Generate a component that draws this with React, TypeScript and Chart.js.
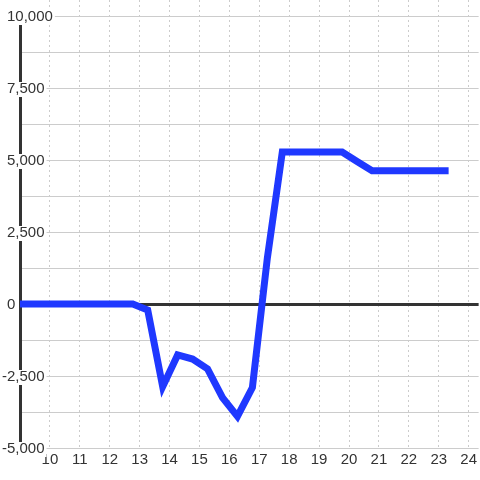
import { useEffect, useRef } from 'react';
import { Chart, registerables } from 'chart.js';

Chart.register(...registerables);

// Hour of day (x) and net value (y) for each sample
const hours = [
  8.77, 9.27, 9.77, 10.27, 10.77, 11.27, 11.77, 12.27, 12.77, 13.27,
  13.77, 14.27, 14.77, 15.27, 15.77, 16.27, 16.77, 17.27, 17.77, 18.27,
  18.77, 19.27, 19.77, 20.27, 20.77, 21.27, 21.77, 22.27, 22.77, 23.33,
];
const netValues = [
  0, 0, 0, 0, 0, 0, 0, 0, 0, -210,
  -2870, -1770, -1910, -2250, -3250, -3900, -2900, 1600, 5280, 5280,
  5280, 5280, 5280, 4950, 4630, 4630, 4630, 4630, 4630, 4630,
];

const xTickValues = [10, 11, 12, 13, 14, 15, 16, 17, 18, 19, 20, 21, 22, 23, 24];
const yGridValues = [-5000, -3750, -2500, -1250, 0, 1250, 2500, 3750, 5000, 6250, 7500, 8750, 10000];
const yLabelValues = [-5000, -2500, 0, 2500, 5000, 7500, 10000];

const FONT = '"Liberation Sans", Arial, sans-serif';
const TEXT_COLOR = '#333';
const GRID_COLOR = '#cccccc';
const LINE_COLOR = '#1f38ff';

const yLabelPlugin = {
  id: 'yLabelsOverlay',
  beforeDatasetsDraw(chart: any) {
    const { ctx, chartArea, scales } = chart;
    const ys = scales.y;
    const axisX = chartArea.left + 0.5;
    ctx.save();
    // vertical axis line spanning the labelled domain
    ctx.strokeStyle = TEXT_COLOR;
    ctx.lineWidth = 3;
    ctx.beginPath();
    ctx.moveTo(axisX, ys.getPixelForValue(yLabelValues[yLabelValues.length - 1]));
    ctx.lineTo(axisX, ys.getPixelForValue(yLabelValues[0]));
    ctx.stroke();

    ctx.font = `15px ${FONT}`;
    ctx.textBaseline = 'middle';
    ctx.textAlign = 'left';
    const minusW = ctx.measureText('-').width;
    const baseX = chartArea.left - 13;
    for (const v of yLabelValues) {
      const text = v.toLocaleString('en-US');
      const py = ys.getPixelForValue(v);
      const w = ctx.measureText(text).width;
      const px = v < 0 ? baseX - minusW : baseX;
      ctx.fillStyle = '#ffffff';
      ctx.fillRect(px - 1, py - 6, w + 3, 15);
      ctx.fillStyle = TEXT_COLOR;
      ctx.fillText(text, px, py + 1);
    }
    ctx.restore();
  },
};

export default function App() {
  const canvasRef = useRef<HTMLCanvasElement | null>(null);

  useEffect(() => {
    const canvas = canvasRef.current;
    if (!canvas) return;
    const chart = new Chart(canvas, {
      type: 'line',
      data: {
        datasets: [
          {
            data: hours.map((h, i) => ({ x: h, y: netValues[i] })),
            borderColor: LINE_COLOR,
            backgroundColor: LINE_COLOR,
            borderWidth: 7,
            pointRadius: 0,
            pointHoverRadius: 0,
            tension: 0,
            fill: false,
            borderJoinStyle: 'miter',
            borderCapStyle: 'butt',
          },
        ],
      },
      options: {
        responsive: false,
        animation: false,
        events: [],
        layout: { padding: { left: 20, right: 0, top: 0, bottom: 8 } },
        plugins: {
          legend: { display: false },
          tooltip: { enabled: false },
          title: { display: false },
        },
        scales: {
          x: {
            type: 'linear',
            position: 'bottom',
            min: 9,
            max: 24.333,
            afterBuildTicks: (scale: any) => {
              scale.ticks = xTickValues.map((v) => ({ value: v }));
            },
            grid: {
              color: GRID_COLOR,
              lineWidth: 1,
              drawTicks: false,
            },
            border: { display: false, dash: [2, 3] },
            ticks: {
              padding: 3,
              color: TEXT_COLOR,
              font: { family: FONT, size: 15 },
              maxRotation: 0,
              autoSkip: false,
              callback: (v: any) => String(v),
            },
          },
          y: {
            type: 'linear',
            position: 'left',
            min: -5000,
            max: 10556,
            afterBuildTicks: (scale: any) => {
              scale.ticks = yGridValues.map((v) => ({ value: v }));
            },
            grid: {
              color: (c: any) => (c.tick && c.tick.value === 0 ? TEXT_COLOR : GRID_COLOR),
              lineWidth: (c: any) => (c.tick && c.tick.value === 0 ? 3 : 1),
              drawTicks: false,
            },
            border: { display: false },
            ticks: { display: false },
          },
        },
      },
      plugins: [yLabelPlugin],
    });
    return () => chart.destroy();
  }, []);

  return (
    <div style={{ position: 'fixed', left: 0, top: 0, width: 480, height: 480, background: '#fff' }}>
      <canvas ref={canvasRef} width={480} height={480} style={{ display: 'block' }} />
    </div>
  );
}
